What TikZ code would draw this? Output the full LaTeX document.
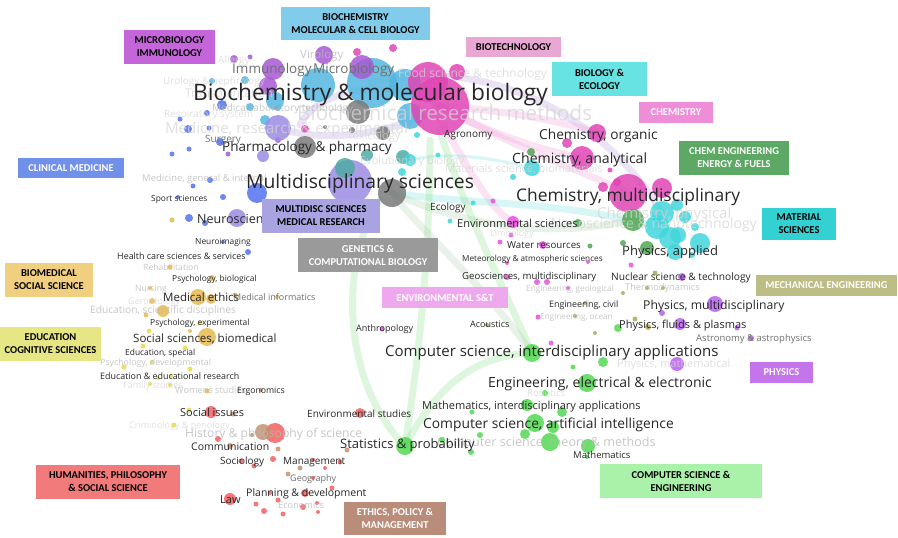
\documentclass[tikz,border=0pt]{standalone}
\usepackage{fontspec}
\setmainfont{Open Sans}
\newfontfamily\boxfont{Carlito}
\usepackage{xcolor}

% area boxes
\definecolor{boxMicro}{HTML}{C466DA}
\definecolor{boxBiochem}{HTML}{80CCEA}
\definecolor{boxBiotech}{HTML}{E9A8D3}
\definecolor{boxBioeco}{HTML}{68E3E3}
\definecolor{boxChem}{HTML}{EE8ED8}
\definecolor{boxChemeng}{HTML}{5DA864}
\definecolor{boxMaterial}{HTML}{33D1D1}
\definecolor{boxMech}{HTML}{BDBD86}
\definecolor{boxPhysics}{HTML}{C475EC}
\definecolor{boxCse}{HTML}{AAF2AA}
\definecolor{boxEthics}{HTML}{BA8D7B}
\definecolor{boxHuman}{HTML}{F17B7B}
\definecolor{boxEdu}{HTML}{E6E684}
\definecolor{boxBiomed}{HTML}{F1CF81}
\definecolor{boxClinical}{HTML}{7190EA}
\definecolor{boxMulti}{HTML}{A9A3E2}
\definecolor{boxGenetics}{HTML}{9A9A9A}
\definecolor{boxEnv}{HTML}{EEA9EE}
% bubbles
\definecolor{cBlue}{HTML}{52B6E0}
\definecolor{cMed}{HTML}{5272EE}
\definecolor{cPurple}{HTML}{A858D4}
\definecolor{cLav}{HTML}{9C8BE3}
\definecolor{cGray}{HTML}{7A7A7A}
\definecolor{cMag}{HTML}{E045B5}
\definecolor{cTeal}{HTML}{42D6DC}
\definecolor{cTealDark}{HTML}{4FAAA4}
\definecolor{cGreen}{HTML}{4EA653}
\definecolor{cLime}{HTML}{52D852}
\definecolor{cViolet}{HTML}{B860EC}
\definecolor{cOlive}{HTML}{AAA855}
\definecolor{cPink}{HTML}{E850E0}
\definecolor{cGold}{HTML}{E8B94F}
\definecolor{cYellow}{HTML}{E5DC45}
\definecolor{cRed}{HTML}{F26060}
\definecolor{cBrown}{HTML}{C4906F}
% links
\definecolor{linkLav}{HTML}{B9A2E2}
\definecolor{linkPink}{HTML}{F2A2DA}
\definecolor{linkTeal}{HTML}{7EE2E2}
\definecolor{linkGreen}{HTML}{8EE08E}
\definecolor{linkSage}{HTML}{B2D4B2}
% label text
\definecolor{labDark}{HTML}{262626}
\definecolor{labMid}{HTML}{6E6E6E}
\definecolor{labFaint}{HTML}{B8B8B8}
\definecolor{labGhost}{HTML}{D4D4D4}

\newcommand{\lblsize}[1]{\fontsize{#1}{#1}\selectfont}

\begin{document}
\begin{tikzpicture}[x=1pt,y=-1pt]
\tikzstyle{areabox} = [rectangle, inner sep=0pt, align=center, font=\boxfont\bfseries\fontsize{10.5}{13}\selectfont]
\tikzstyle{topic} = [anchor=base west, inner sep=0pt, text=labDark]
\tikzstyle{soft} = [topic, text=labMid]
\tikzstyle{faded} = [topic, text=labFaint, text opacity=.8]
\tikzstyle{ghost} = [topic, text=labGhost, text opacity=.75]
\tikzstyle{bubble} = [fill opacity=.85]
\tikzstyle{link} = [line width=7pt, line cap=round, opacity=.3]

\useasboundingbox (0,0) rectangle (898,538);

% links
\draw[link, draw=linkLav] (300,125) .. controls (320,85) and (400,78) .. (440,106);
\draw[link, draw=linkLav] (278,128) .. controls (330,145) and (400,132) .. (440,106);
\draw[link, draw=linkLav] (372,83) .. controls (480,55) and (600,110) .. (662,213);
\draw[link, draw=linkPink] (440,106) .. controls (500,110) and (560,120) .. (597,133);
\draw[link, draw=linkPink] (440,106) .. controls (480,130) and (540,150) .. (582,158);
\draw[link, draw=linkPink] (440,106) .. controls (520,150) and (580,170) .. (628,193);
\draw[link, draw=linkPink] (440,120) .. controls (470,170) and (490,210) .. (513,222);
\draw[link, draw=linkTeal] (392,193) .. controls (470,205) and (560,200) .. (657,227);
\draw[link, draw=linkTeal, line width=3pt] (410,160) .. controls (450,150) and (500,160) .. (532,168);
\draw[link, draw=linkSage] (392,193) .. controls (480,232) and (560,236) .. (633,220);
\draw[link, draw=linkGreen] (405,446) .. controls (340,380) and (340,260) .. (380,200);
\draw[link, draw=linkGreen] (405,446) .. controls (440,380) and (480,355) .. (532,353);
\draw[link, draw=linkGreen] (532,353) .. controls (500,280) and (460,200) .. (440,130);
\draw[link, draw=linkGreen] (405,446) .. controls (420,350) and (430,250) .. (430,140);
\draw[link, draw=linkSage] (532,353) .. controls (480,280) and (420,230) .. (392,193);

% bubbles
\foreach \x/\y/\r in {372/83/25, 318/85/17, 405/85/16, 410/116/13, 275/101/9, 245/80/4, 212/81/3, 250/107/4, 265/120/5, 278/108/3}
  \fill[bubble, fill=cBlue] (\x,\y) circle (\r);
\foreach \x/\y/\r in {222/105/5, 180/119/2.5, 207/113/3, 188/129/4, 209/128/2.5, 172/154/2.5, 189/149/2.5, 220/142/4, 193/186/2.5, 210/180/3, 223/197/3, 257/193/10, 178/197/2, 189/218/4, 205/223/3, 248/252/3, 223/242/2}
  \fill[bubble, fill=cMed] (\x,\y) circle (\r);
\foreach \x/\y/\r in {234/59/4, 250/57/2.5, 273/69/11, 268/86/9, 324/55/9, 362/67/12, 278/140/3, 228/154/2.5}
  \fill[bubble, fill=cPurple] (\x,\y) circle (\r);
\foreach \x/\y/\r in {278/128/13, 263/156/6, 237/218/9, 350/182/22}
  \fill[bubble, fill=cLav] (\x,\y) circle (\r);
\foreach \x/\y/\r in {305/147/11, 383/133/7, 352/130/3, 325/127/2, 392/193/14, 358/112/12}
  \fill[bubble, fill=cGray] (\x,\y) circle (\r);
\foreach \x/\y/\r in {345/168/10, 367/155/6, 403/157/7}
  \fill[bubble, fill=cTealDark] (\x,\y) circle (\r);
\foreach \x/\y/\r in {428/82/20, 440/106/29, 457/72/8, 357/52/4, 393/48/4, 305/129/4, 597/133/9, 567/143/5, 582/158/12, 610/170/2.5, 603/187/5, 628/193/19, 662/188/10, 617/182/4}
  \fill[bubble, fill=cMag] (\x,\y) circle (\r);
\foreach \x/\y/\r in {417/135/3, 410/160/6, 402/172/4, 438/155/2.5, 532/168/8, 513/177/3, 473/203/2.5, 450/221/2.5, 662/213/12, 677/205/6, 685/217/6, 657/227/12, 670/238/11, 678/235/8, 700/243/10, 675/252/8, 695/227/4, 692/255/3}
  \fill[bubble, fill=cTeal] (\x,\y) circle (\r);
\foreach \x/\y/\r in {531/152/4, 633/220/11, 647/248/7, 623/243/3, 578/223/4, 590/246/2.5}
  \fill[bubble, fill=cGreen] (\x,\y) circle (\r);
\foreach \x/\y/\r in {532/353/9, 405/446/9, 442/440/3, 471/452/3, 480/435/3, 472/412/2.5, 527/405/6, 535/423/9, 525/434/5, 545/393/3, 553/427/6, 562/412/5, 550/442/9, 587/383/9, 588/446/7, 573/367/2.5, 587/457/2, 603/362/5, 618/328/4}
  \fill[bubble, fill=cLime] (\x,\y) circle (\r);
\foreach \x/\y/\r in {715/304/8, 662/313/3, 680/324/6, 737/328/2.5, 751/338/3, 682/277/4, 677/364/7}
  \fill[bubble, fill=cViolet] (\x,\y) circle (\r);
\foreach \x/\y/\r in {655/273/2.5, 623/293/2, 647/288/2, 663/288/2, 635/319/2.5, 648/327/3, 585/303/2, 575/316/2, 595/333/2, 487/325/2}
  \fill[bubble, fill=cOlive] (\x,\y) circle (\r);
\foreach \x/\y/\r in {493/201/2.5, 513/222/6, 511/235/2.5, 500/242/2.5, 543/245/4, 507/263/2, 588/262/2, 507/277/3, 537/282/3, 547/282/3, 568/288/2, 538/317/2.5, 551/343/2.5, 382/329/2.5, 631/265/2.5}
  \fill[bubble, fill=cPink] (\x,\y) circle (\r);
\foreach \x/\y/\r in {172/220/2.5, 170/267/2.5, 212/278/3, 198/297/8, 211/299/5, 235/295/2.5, 152/301/3, 163/311/6, 146/315/2.5, 207/337/9, 190/331/2, 150/288/2, 277/297/2, 207/391/2.5}
  \fill[bubble, fill=cGold] (\x,\y) circle (\r);
\foreach \x/\y/\r in {200/323/2.5, 149/331/2.5, 143/346/2.5, 185/348/2.5, 124/367/2.5, 152/362/2, 190/369/2.5, 158/378/2, 171/376/2, 150/384/2, 170/385/2, 189/410/2.5, 174/425/2.5}
  \fill[bubble, fill=cYellow] (\x,\y) circle (\r);
\foreach \x/\y/\r in {211/412/6, 275/433/10, 218/439/3, 241/461/2.5, 254/466/2.5, 273/459/3, 230/499/6, 256/504/2.5, 264/511/3, 270/493/2, 283/514/2.5, 278/500/2.5, 360/413/5, 340/462/2.5, 325/468/2, 313/460/2, 313/478/2, 332/488/2.5, 305/493/4, 303/507/3, 318/512/2, 317/503/2}
  \fill[bubble, fill=cRed] (\x,\y) circle (\r);
\foreach \x/\y/\r in {261/390/2, 233/414/2.5, 263/432/8, 252/435/2, 230/446/3, 278/449/2.5, 288/474/2.5, 347/450/2.5, 300/468/2.5}
  \fill[bubble, fill=cBrown] (\x,\y) circle (\r);

% faint labels
\node[ghost, font=\lblsize{20.6}] (biochemMethods) at (297,120) {Biochemical research methods};
\node[ghost, font=\lblsize{15}] (medResearch) at (165,133) {Medicine, research \& experimental};
\node[ghost, font=\lblsize{15}] (chemPhysical) at (597,218) {Chemistry, physical};
\node[ghost, font=\lblsize{14}, anchor=base east] (nano) at (757,228) {Nanoscience \& nanotechnology};
\node[ghost, font=\lblsize{11}] (biomaterials) at (445,172) {Materials science, biomaterials};
\node[ghost, font=\lblsize{12}] (foodSci) at (398,77) {Food science \& technology};
\node[ghost, font=\lblsize{11}] (evolBio) at (360,164) {Evolutionary biology};
\node[ghost, font=\lblsize{11}] (toxicology) at (347,139) {Toxicology};
\node[ghost, font=\lblsize{10}] (allergy) at (218,63) {Allergy};
\node[ghost, font=\lblsize{10}] (urology) at (163,84) {Urology \& nephrology};
\node[ghost, font=\lblsize{12}] (transplant) at (185,97) {Transplantation};
\node[ghost, font=\lblsize{10}] (respiratory) at (164,117) {Respiratory system};
\node[ghost, font=\lblsize{9}] (gerontology) at (128,304) {Gerontology};
\node[ghost, font=\lblsize{9}] (family) at (123,388) {Family studies};
\node[ghost, font=\lblsize{9}] (criminology) at (129,428) {Criminology \& penology};
\node[ghost, font=\lblsize{9.5}] (robotics) at (527,396) {Robotics};
\node[ghost, font=\lblsize{11}] (physMath) at (617,367) {Physics, mathematical};
\node[ghost, font=\lblsize{9}] (limnology) at (490,236) {Limnology};
\node[faded, font=\lblsize{12.6}] (csTheory) at (437,446) {Computer science, theory \& methods};
\node[faded, font=\lblsize{12.1}] (history) at (185,437) {History \& philosophy of science};
\node[faded, font=\lblsize{10.2}] (eduSci) at (90,313) {Education, scientific disciplines};
\node[faded, font=\lblsize{11.5}] (virology) at (300,58) {Virology};
\node[faded, font=\lblsize{10}] (medLab) at (212,111) {Medical laboratory technology};
\node[faded, font=\lblsize{9.5}] (medGeneral) at (142,181) {Medicine, general \& internal};
\node[faded, font=\lblsize{8.6}] (rehab) at (143,270) {Rehabilitation};
\node[faded, font=\lblsize{8.6}] (nursing) at (135,291) {Nursing};
\node[faded, font=\lblsize{8.8}] (psyDev) at (100,365) {Psychology, developmental};
\node[faded, font=\lblsize{8.2}] (engGeo) at (526,291) {Engineering, geological};
\node[faded, font=\lblsize{8.2}] (engOcean) at (540,319) {Engineering, ocean};
\node[faded, font=\lblsize{9.2}] (thermo) at (625,290) {Thermodynamics};
\node[faded, font=\lblsize{9.2}] (economics) at (278,508) {Economics};
\node[faded, font=\lblsize{9.2}] (womens) at (175,393) {Womens studies};

% labels
\node[topic, font=\lblsize{22.7}] (biochem) at (193,100) {Biochemistry \& molecular biology};
\node[topic, font=\lblsize{19.3}] (multidisc) at (246,188) {Multidisciplinary sciences};
\node[topic, font=\lblsize{17.4}] (chemMulti) at (516,201) {Chemistry, multidisciplinary};
\node[soft, font=\lblsize{13.5}] (immunology) at (232,73) {Immunology};
\node[soft, font=\lblsize{13.5}] (microbiology) at (313,73) {Microbiology};
\node[topic, font=\lblsize{13.5}] (pharma) at (222,151) {Pharmacology \& pharmacy};
\node[soft, font=\lblsize{10}] (surgery) at (205,142) {Surgery};
\node[topic, font=\lblsize{13.7}] (chemOrganic) at (539,139) {Chemistry, organic};
\node[topic, font=\lblsize{14.1}] (chemAnalytical) at (512,163) {Chemistry, analytical};
\node[topic, font=\lblsize{10}] (agronomy) at (444,137) {Agronomy};
\node[topic, font=\lblsize{10}] (ecology) at (430,210) {Ecology};
\node[topic, font=\lblsize{11}] (envSci) at (457,227) {Environmental sciences};
\node[topic, font=\lblsize{9.7}] (water) at (507,248) {Water resources};
\node[topic, font=\lblsize{8.2}] (meteo) at (462,261) {Meteorology \& atmospheric sciences};
\node[topic, font=\lblsize{9.6}] (geosci) at (462,279) {Geosciences, multidisciplinary};
\node[topic, font=\lblsize{8.9}] (engCivil) at (549,307) {Engineering, civil};
\node[topic, font=\lblsize{9}] (acoustics) at (470,327) {Acoustics};
\node[topic, font=\lblsize{9}] (anthropology) at (356,331) {Anthropology};
\node[topic, font=\lblsize{13}] (physApplied) at (622,255) {Physics, applied};
\node[topic, font=\lblsize{10.2}] (nuclear) at (611,280) {Nuclear science \& technology};
\node[topic, font=\lblsize{12.2}] (physMulti) at (643,309) {Physics, multidisciplinary};
\node[topic, font=\lblsize{11}] (physFluids) at (619,328) {Physics, fluids \& plasmas};
\node[soft, font=\lblsize{9.5}] (astro) at (696,341) {Astronomy \& astrophysics};
\node[topic, font=\lblsize{15}] (csInter) at (385,356) {Computer science, interdisciplinary applications};
\node[topic, font=\lblsize{14}] (engElec) at (488,387) {Engineering, electrical \& electronic};
\node[topic, font=\lblsize{11}] (mathInter) at (422,409) {Mathematics, interdisciplinary applications};
\node[topic, font=\lblsize{13.8}] (csAI) at (423,428) {Computer science, artificial intelligence};
\node[topic, font=\lblsize{13}] (stats) at (340,448) {Statistics \& probability};
\node[topic, font=\lblsize{9.5}] (maths) at (573,458) {Mathematics};
\node[topic, font=\lblsize{10}] (envStudies) at (307,417) {Environmental studies};
\node[topic, font=\lblsize{8.4}] (sport) at (151,201) {Sport sciences};
\node[topic, font=\lblsize{12.5}] (neuro) at (197,223) {Neurosciences};
\node[topic, font=\lblsize{8.4}] (neuroimaging) at (195,244) {Neuroimaging};
\node[topic, font=\lblsize{8.9}] (healthCare) at (117,259) {Health care sciences \& services};
\node[topic, font=\lblsize{8.4}] (psyBio) at (172,281) {Psychology, biological};
\node[topic, font=\lblsize{11.5}] (medEthics) at (163,301) {Medical ethics};
\node[soft, font=\lblsize{9}] (medInfo) at (233,300) {Medical informatics};
\node[topic, font=\lblsize{8.4}] (psyExp) at (150,325) {Psychology, experimental};
\node[topic, font=\lblsize{11.5}] (socBiomed) at (133,342) {Social sciences, biomedical};
\node[topic, font=\lblsize{8.4}] (eduSpecial) at (125,355) {Education, special};
\node[topic, font=\lblsize{8.9}] (eduResearch) at (100,379) {Education \& educational research};
\node[topic, font=\lblsize{8.7}] (ergonomics) at (237,393) {Ergonomics};
\node[topic, font=\lblsize{11}] (socIssues) at (180,416) {Social issues};
\node[topic, font=\lblsize{10.5}] (communication) at (191,450) {Communication};
\node[topic, font=\lblsize{10}] (sociology) at (220,464) {Sociology};
\node[topic, font=\lblsize{10}] (management) at (283,464) {Management};
\node[soft, font=\lblsize{9}] (geography) at (290,481) {Geography};
\node[topic, font=\lblsize{10.5}] (planning) at (246,496) {Planning \& development};
\node[topic, font=\lblsize{11}] (law) at (220,503) {Law};

% area boxes
\node[areabox, fill=boxMicro, minimum width=91, minimum height=34] (boxMicro) at (169.5,47) {MICROBIOLOGY\\IMMUNOLOGY};
\node[areabox, fill=boxBiochem, minimum width=149, minimum height=33] (boxBiochem) at (355.5,23.5) {BIOCHEMISTRY\\MOLECULAR \& CELL BIOLOGY};
\node[areabox, fill=boxBiotech, minimum width=95, minimum height=20] (boxBiotech) at (513.5,47) {BIOTECHNOLOGY};
\node[areabox, fill=boxBioeco, minimum width=95, minimum height=34] (boxBioeco) at (599.5,79) {BIOLOGY \&\\ECOLOGY};
\node[areabox, fill=boxChem, text=white, minimum width=74, minimum height=21] (boxChem) at (676,112.5) {CHEMISTRY};
\node[areabox, fill=boxChemeng, text=white, minimum width=110, minimum height=34] (boxChemeng) at (734,158) {CHEM ENGINEERING\\ENERGY \& FUELS};
\node[areabox, fill=boxMaterial, minimum width=74, minimum height=32] (boxMaterial) at (799,224) {MATERIAL\\SCIENCES};
\node[areabox, fill=boxMech, text=white, minimum width=141, minimum height=21] (boxMech) at (826.5,285.5) {MECHANICAL ENGINEERING};
\node[areabox, fill=boxPhysics, text=white, minimum width=63, minimum height=21] (boxPhysics) at (781.5,372.5) {PHYSICS};
\node[areabox, fill=boxCse, minimum width=162, minimum height=34] (boxCse) at (681,481) {COMPUTER SCIENCE \&\\ENGINEERING};
\node[areabox, fill=boxEthics, text=white, minimum width=102, minimum height=33] (boxEthics) at (395,518.5) {ETHICS, POLICY \&\\MANAGEMENT};
\node[areabox, fill=boxHuman, minimum width=144, minimum height=34] (boxHuman) at (108,482) {HUMANITIES, PHILOSOPHY\\\& SOCIAL SCIENCE};
\node[areabox, fill=boxEdu, minimum width=101, minimum height=34] (boxEdu) at (50.5,344) {EDUCATION\\COGNITIVE SCIENCES};
\node[areabox, fill=boxBiomed, minimum width=88, minimum height=34] (boxBiomed) at (49,280) {BIOMEDICAL\\SOCIAL SCIENCE};
\node[areabox, fill=boxClinical, text=white, minimum width=106, minimum height=20] (boxClinical) at (71,168) {CLINICAL MEDICINE};
\node[areabox, fill=boxMulti, minimum width=118, minimum height=34] (boxMulti) at (321,216) {MULTIDISC SCIENCES\\MEDICAL RESEARCH};
\node[areabox, fill=boxGenetics, text=white, minimum width=140, minimum height=34] (boxGenetics) at (368,255) {GENETICS \&\\COMPUTATIONAL BIOLOGY};
\node[areabox, fill=boxEnv, text=white, minimum width=126, minimum height=21] (boxEnv) at (445,297.5) {ENVIRONMENTAL S\&T};

\end{tikzpicture}
\end{document}
